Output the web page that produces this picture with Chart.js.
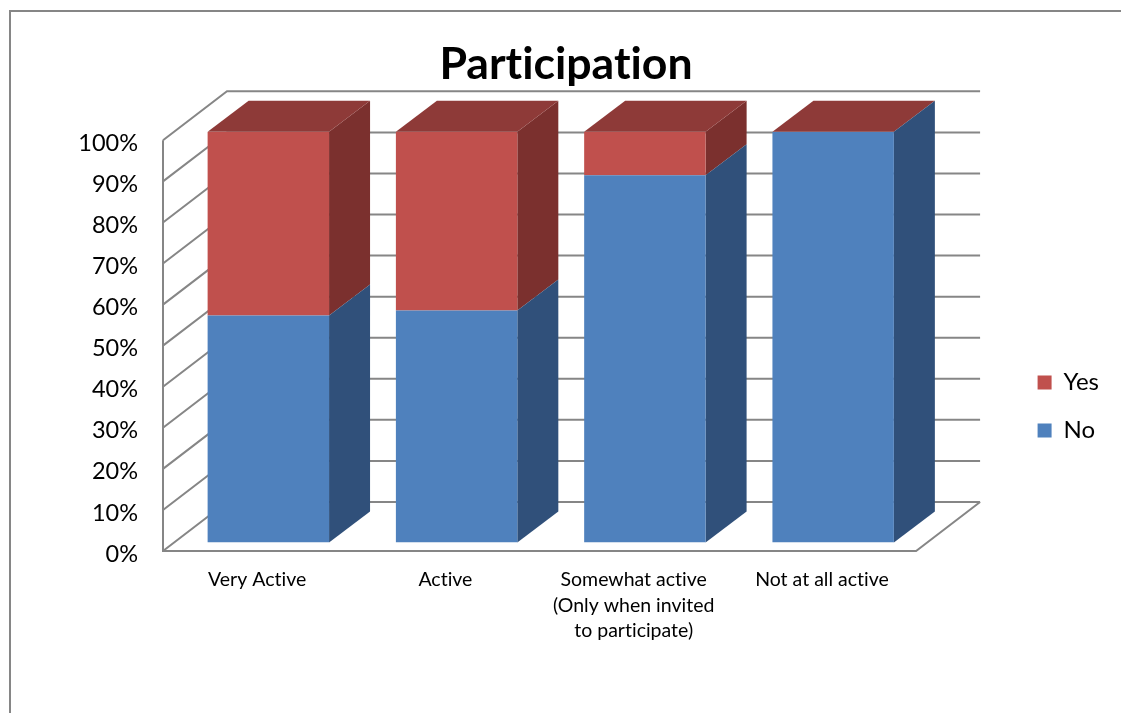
<!DOCTYPE html>
<html>
<head>
<meta charset="utf-8">
<script src="https://cdn.jsdelivr.net/npm/chart.js@4"></script>
<style>
  html, body { margin: 0; padding: 0; background: #fff; overflow: hidden; }
  #frame { position: absolute; left: 9px; top: 10px; border-left: 2px solid #868686; border-top: 2px solid #868686; }
  canvas { display: block; }
</style>
</head>
<body>
<div id="frame"><canvas id="chart" width="1110" height="701"></canvas></div>
<script>
var categories = ['Very Active', 'Active', ['Somewhat active', '(Only when invited', 'to participate)'], 'Not at all active'];
var noValues = [55.3, 56.5, 89.4, 100];
var yesValues = [44.7, 43.5, 10.6, 0];

// 3d look: walls go back by wallDepth, bars stand a bit off the front edge
var wallDepth = { x: 64, y: -49 };
var barShift = { x: 11.2, y: -8.5 };
var barDepth = { x: 41, y: -31 };
var gridColor = '#868686';
var sideColors = ['#30507a', '#7b302e'];
var topColor = '#8e3a38';

function poly(ctx, pts, color) {
  ctx.fillStyle = color;
  ctx.beginPath();
  pts.forEach(function(p, i) {
    if (i == 0) ctx.moveTo(p[0], p[1]);
    else ctx.lineTo(p[0], p[1]);
  });
  ctx.closePath();
  ctx.fill();
}

var walls3d = {
  id: 'walls3d',
  afterLayout: function(chart) {
    // legend sits lower than the library centres it
    chart.legend.top += 44;
    chart.legend.bottom += 44;
    chart.legend.left -= 12;
    // y labels sit a little under their grid lines in the original
    var yScale = chart.scales.y;
    var drawLabels = yScale.drawLabels;
    yScale.drawLabels = function(a) {
      chart.ctx.save();
      chart.ctx.translate(0, 3);
      drawLabels.call(yScale, a);
      chart.ctx.restore();
    };
  },
  beforeDraw: function(chart) {
    // no ti ligature in the original font
    chart.ctx.textRendering = 'optimizeSpeed';
  },
  beforeDatasetsDraw: function(chart) {
    var ctx = chart.ctx;
    var area = chart.chartArea;
    var yScale = chart.scales.y;
    ctx.save();
    ctx.strokeStyle = gridColor;
    ctx.lineWidth = 2;
    ctx.lineJoin = 'miter';
    yScale.ticks.forEach(function(t) {
      var y = yScale.getPixelForValue(t.value);
      ctx.beginPath();
      ctx.moveTo(area.left, y);
      ctx.lineTo(area.left + wallDepth.x, y + wallDepth.y);
      ctx.lineTo(area.right + wallDepth.x, y + wallDepth.y);
      ctx.stroke();
    });
    ctx.beginPath();
    ctx.moveTo(area.left, area.top);
    ctx.lineTo(area.left, area.bottom);
    ctx.lineTo(area.right, area.bottom);
    ctx.lineTo(area.right + wallDepth.x, area.bottom + wallDepth.y);
    ctx.stroke();
    ctx.restore();
  },
  beforeDatasetDraw: function(chart, args) {
    var ctx = chart.ctx;
    ctx.save();
    ctx.translate(barShift.x, barShift.y);
    // side and top faces of every bar of this series
    args.meta.data.forEach(function(bar) {
      var r = bar.x + bar.width / 2;
      var l = bar.x - bar.width / 2;
      poly(ctx, [[r, bar.y], [r + barDepth.x, bar.y + barDepth.y], [r + barDepth.x, bar.base + barDepth.y], [r, bar.base]], sideColors[args.index]);
      if (args.index == 1) {
        poly(ctx, [[l, bar.y], [l + barDepth.x, bar.y + barDepth.y], [r + barDepth.x, bar.y + barDepth.y], [r, bar.y]], topColor);
      }
    });
  },
  afterDatasetDraw: function(chart) {
    chart.ctx.restore();
  }
};

Chart.defaults.font.family = 'Lato';
Chart.defaults.color = '#000';

var chart = new Chart('chart', {
  type: 'bar',
  plugins: [walls3d],
  data: {
    labels: categories,
    datasets: [
      { label: 'No', data: noValues, backgroundColor: '#4f81bd' },
      { label: 'Yes', data: yesValues, backgroundColor: '#c0504d' }
    ]
  },
  options: {
    responsive: false,
    animation: false,
    barPercentage: 0.645,
    categoryPercentage: 1,
    plugins: {
      tooltip: { enabled: false },
      title: {
        display: true,
        text: 'Participation',
        font: { size: 44.6, weight: 'bold' },
        color: '#000',
        padding: { top: 25.5, bottom: 49.3 }
      },
      legend: {
        position: 'right',
        reverse: true,
        labels: { boxWidth: 14, boxHeight: 14, padding: 24, font: { size: 24 }, color: '#000' }
      }
    },
    scales: {
      x: {
        stacked: true,
        grid: { display: false, drawTicks: false },
        border: { display: false },
        ticks: { maxRotation: 0, autoSkip: false, padding: 16, font: { size: 19.5, lineHeight: 1.31 } },
        afterFit: function(scale) { scale.height = 162; }
      },
      y: {
        stacked: true,
        min: 0,
        max: 100,
        grid: { display: false, drawTicks: false },
        border: { display: false },
        ticks: {
          stepSize: 10,
          padding: 25,
          font: { size: 23.5 },
          callback: function(v) { return v + '%'; }
        },
        afterFit: function(scale) { scale.width = 152; }
      },
      legendGap: {
        position: 'right',
        display: true,
        grid: { display: false, drawTicks: false },
        border: { display: false },
        ticks: { display: false },
        afterFit: function(scale) { scale.width = 109.5; }
      }
    }
  }
});
</script>
</body>
</html>
